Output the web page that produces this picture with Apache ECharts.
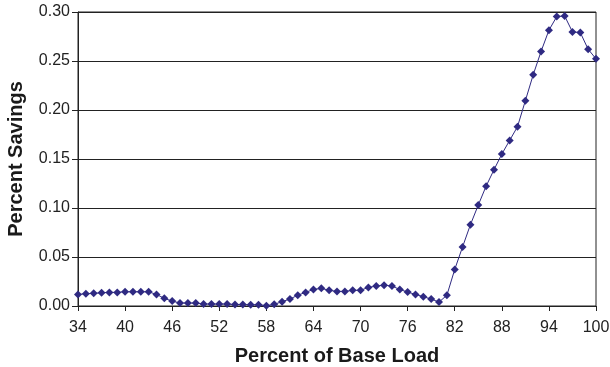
<!DOCTYPE html>
<html>
<head>
<meta charset="utf-8">
<script src="https://cdn.jsdelivr.net/npm/echarts@6/dist/echarts.min.js"></script>
<style>
html,body{margin:0;padding:0;background:#fff;}
#chart{width:610px;height:367px;}
</style>
</head>
<body>
<div id="chart"></div>
<script>
// Percent of Base Load (x categories)
var baseLoad = [];
for (var v = 34; v <= 100; v++) baseLoad.push(String(v));

// Percent Savings values
var savings = [
  0.0118, 0.0125, 0.0129, 0.0135, 0.0139, 0.0139, 0.0145, 0.0145, 0.0145, 0.0145, // 34-43
  0.0118, 0.0078, 0.0050, 0.0030, 0.0030, 0.0030, 0.0020, 0.0020, 0.0020, 0.0020, // 44-53
  0.0015, 0.0015, 0.0013, 0.0013, 0.0003, 0.0017, 0.0044, 0.0071, 0.0110, 0.0139, // 54-63
  0.0169, 0.0180, 0.0160, 0.0149, 0.0149, 0.0160, 0.0160, 0.0190, 0.0203, 0.0213, // 64-73
  0.0203, 0.0169, 0.0142, 0.0118, 0.0095, 0.0071, 0.0040, 0.0110, 0.0373, 0.0603, // 74-83
  0.0830, 0.1030, 0.1223, 0.1390, 0.1550, 0.1690, 0.1830, 0.2095, 0.2360, 0.2597, // 84-93
  0.2814, 0.2953, 0.2960, 0.2797, 0.2790, 0.2620, 0.2522                          // 94-100
];

var yTicks = { min: 0, max: 0.30, step: 0.05 };

var chart = echarts.init(document.getElementById('chart'));
var font = '"Liberation Sans", Arial, Helvetica, sans-serif';
chart.setOption({
  animation: false,
  backgroundColor: '#fff',
  grid: { left: 78, right: 14, top: 12, bottom: 61, show: true, borderColor: '#222', borderWidth: 1,
          outerBoundsMode: 'none', containLabel: false },
  xAxis: {
    type: 'category',
    data: baseLoad,
    boundaryGap: false,
    name: 'Percent of Base Load',
    nameLocation: 'middle',
    nameGap: 40,
    nameTextStyle: { fontFamily: font, fontSize: 20, fontWeight: 'bold', color: '#1a1a1a' },
    axisLine: { lineStyle: { color: '#222', width: 1 } },
    axisTick: { show: true, interval: 5, length: 5, lineStyle: { color: '#222' } },
    axisLabel: { interval: 5, margin: 14, fontFamily: font, fontSize: 16, color: '#222' },
    splitLine: { show: false }
  },
  yAxis: {
    type: 'value',
    min: yTicks.min,
    max: yTicks.max,
    interval: yTicks.step,
    name: 'Percent Savings',
    nameLocation: 'middle',
    nameGap: 52,
    nameTextStyle: { fontFamily: font, fontSize: 20, fontWeight: 'bold', color: '#1a1a1a' },
    axisLine: { show: true, lineStyle: { color: '#222', width: 1 } },
    axisTick: { show: true, length: 6, lineStyle: { color: '#222' } },
    axisLabel: { margin: 8, fontFamily: font, fontSize: 16, color: '#222',
      formatter: function (v) { return v.toFixed(2); } },
    splitLine: { show: true, lineStyle: { color: '#222', width: 1 } }
  },
  series: [{
    type: 'line',
    data: savings,
    symbol: 'diamond',
    symbolSize: 8,
    showAllSymbol: true,
    itemStyle: { color: '#2f2a82' },
    lineStyle: { color: '#2f2a82', width: 1 }
  }]
});
</script>
</body>
</html>
